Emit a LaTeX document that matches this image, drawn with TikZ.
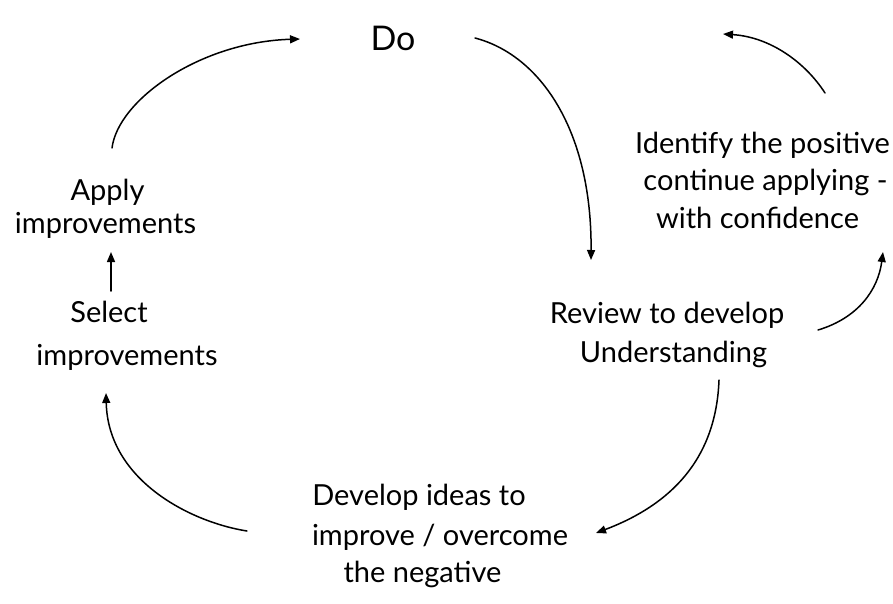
\documentclass[tikz,border=0pt]{standalone}
\usepackage{fontspec}
\setmainfont{Lato}
\usetikzlibrary{arrows.meta}
\begin{document}
\begin{tikzpicture}[x=1pt,y=-1pt,
  lbl/.style={anchor=base, inner sep=0pt, font=\fontsize{29}{34}\selectfont},
  arr/.style={line width=1.5pt, line cap=round, -{Triangle[length=10pt,width=8pt]}}]
\useasboundingbox[fill=white] (0,0) rectangle (893,603);

% stage labels, one node per handwritten line
\node[lbl, font=\fontsize{34}{40}\selectfont] (do) at (393,50) {Do};
\node[lbl] (apply)    at (107.5,200) {Apply};
\node[lbl] (apply2)   at (105.5,233) {improvements};
\node[lbl] (select)   at (109,322)   {Select};
\node[lbl] (select2)  at (127,365)   {improvements};
\node[lbl] (ident)    at (762.5,153) {Identify the positive};
\node[lbl] (ident2)   at (765.5,190) {continue applying -};
\node[lbl] (ident3)   at (757.5,228) {with confidence};
\node[lbl] (review)   at (667,323)   {Review to develop};
\node[lbl] (review2)  at (673.5,362) {Understanding};
\node[lbl] (devel)    at (419,505)   {Develop ideas to};
\node[lbl] (devel2)   at (440,545)   {improve / overcome};
\node[lbl] (devel3)   at (422.5,582) {the negative};

% cycle arrows
\draw[arr] ([shift={(4.5,-52)}]apply.base)
  .. controls (118,100) and (200,42) .. ([shift={(-93,-11)}]do.base);
\draw[arr] ([shift={(82,-12)}]do.base)
  .. controls (540,55) and (592,130) .. ([shift={(-76,-63)}]review.base);
\draw[arr] ([shift={(45.5,18)}]review2.base)
  .. controls (716,460) and (670,505) .. ([shift={(156,-12)}]devel2.base);
\draw[arr] ([shift={(-193,-14)}]devel2.base)
  .. controls (190,522) and (108,480) .. ([shift={(-21,28)}]select2.base);
\draw[arr] ([shift={(2,-31)}]select.base) -- ([shift={(5.5,19)}]apply2.base);

% side loop through the positive outcome
\draw[arr] ([shift={(144.5,-32)}]review2.base)
  .. controls (858,318) and (878,290) .. ([shift={(125.5,24)}]ident3.base);
\draw[arr] ([shift={(62.5,-60)}]ident.base)
  .. controls (805,62) and (770,37) .. ([shift={(330,-16)}]do.base);
\end{tikzpicture}
\end{document}
